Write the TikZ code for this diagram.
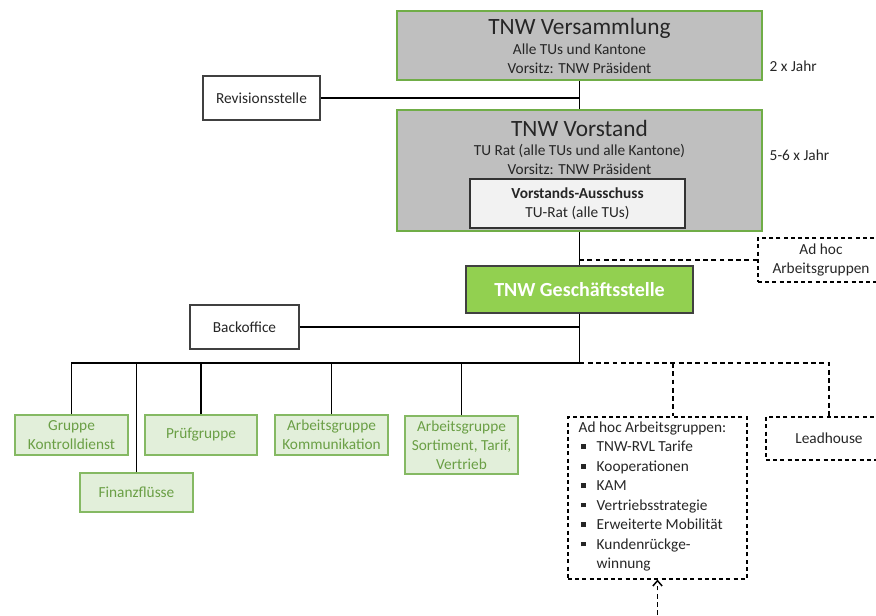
\documentclass[tikz,border=0pt]{standalone}
\usepackage{fontspec}
\setmainfont{Carlito}
\usetikzlibrary{positioning,fit,arrows.meta}
\definecolor{boxgrey}{HTML}{BFBFBF}
\definecolor{rimgreen}{HTML}{70AD47}
\definecolor{gsgreen}{HTML}{92D050}
\definecolor{palegreen}{HTML}{E2EFDA}
\definecolor{textgreen}{HTML}{6A9F45}
\definecolor{innergrey}{HTML}{F2F2F2}
\definecolor{ink}{HTML}{262626}
\newcommand{\sqbullet}% small square bullet of the list
{\makebox[13.5pt][l]{\hspace{1.5pt}\rule[0.18em]{3.6pt}{3.6pt}}}

\begin{document}
\begin{tikzpicture}[x=.75pt,y=-.75pt,line width=1.1pt,font=\fontsize{11.5}{14.3}\selectfont,text=ink] % organigram
\tikzstyle{greybox}=[draw=rimgreen,fill=boxgrey,line width=1.2pt,inner sep=0pt]
\tikzstyle{plainbox}=[draw=black!75,fill=white,line width=.8pt,inner sep=0pt]
\tikzstyle{innerbox}=[draw=black!80,fill=innergrey,line width=.9pt,inner sep=0pt]
\tikzstyle{gsbox}=[draw=black!75,fill=gsgreen,line width=1.1pt,inner sep=0pt]
\tikzstyle{groupbox}=[draw=rimgreen!85,fill=palegreen,line width=1.1pt,inner sep=0pt]
\tikzstyle{adhocbox}=[draw,dash pattern=on 3pt off 2.4pt,line width=.9pt,inner sep=0pt]
\tikzstyle{dashline}=[dash pattern=on 3.6pt off 2.6pt]
\tikzstyle{txt}=[inner sep=0pt,align=center]
\tikzstyle{grouptxt}=[txt,text=textgreen]
\tikzstyle{title}=[anchor=base,inner sep=0pt,font=\fontsize{17.5}{20}\selectfont]
\tikzstyle{line}=[anchor=base,inner sep=0pt]

\clip (0,0) rectangle (876,616);

% top: Versammlung
\node[greybox,fit={(397,11) (762,80)}] (vers) {};
\draw (579.5,35) node[title] (versT) {TNW Versammlung};
\draw (579.5,55) node[line] (versA) {Alle TUs und Kantone};
\draw (579.5,74) node[line] (versB) {Vorsitz: TNW Präsident};
\draw (769,72) node[line,anchor=base west] (versF) {2 x Jahr};

\node[plainbox,fit={(203,76) (320,120)}] (rev) {};
\draw (rev.center) node[txt] (revT) {Revisionsstelle};

% Vorstand with its Ausschuss
\node[greybox,fit={(397,110) (762,231)}] (vor) {};
\draw (579.5,137) node[title] (vorT) {TNW Vorstand};
\draw (579.5,156) node[line] (vorA) {TU Rat (alle TUs und alle Kantone)};
\draw (579.5,175) node[line] (vorB) {Vorsitz: TNW Präsident};
\draw (769,161) node[line,anchor=base west] (vorF) {5-6 x Jahr};
\node[innerbox,fit={(470,179) (685,228)}] (aus) {};
\draw (aus.center) node[txt] (ausT) {\textbf{Vorstands-Ausschuss}\\TU-Rat (alle TUs)};

\node[adhocbox,fit={(758,238) (884,282)}] (adhoc) {};
\draw (adhoc.center) node[txt] (adhocT) {Ad hoc\\Arbeitsgruppen};

% Geschaeftsstelle
\node[gsbox,fit={(466,266) (693,313)}] (gs) {};
\draw (gs.center) node[txt,text=white,font=\fontsize{15}{18}\selectfont\bfseries] (gsT) {TNW Geschäftsstelle};
\node[plainbox,fit={(190,305) (299,349)}] (back) {};
\draw (back.center) node[txt] (backT) {Backoffice};

% groups below the bus
\node[groupbox,fit={(15,415) (128,455)}] (kd) {};
\draw (kd.center) node[grouptxt] (kdT) {Gruppe\\Kontrolldienst};
\node[groupbox,fit={(80,473) (193,512)}] (fin) {};
\draw (fin.center) node[grouptxt] (finT) {Finanzflüsse};
\node[groupbox,fit={(145,415) (257,455)}] (pruef) {};
\draw (pruef.center) node[grouptxt] (pruefT) {Prüfgruppe};
\node[groupbox,fit={(275,415) (388,455)}] (komm) {};
\draw (komm.center) node[grouptxt] (kommT) {Arbeitsgruppe\\Kommunikation};
\node[groupbox,fit={(405,416) (518,474)}] (sort) {};
\draw (sort.center) node[grouptxt] (sortT) {Arbeitsgruppe\\Sortiment, Tarif,\\Vertrieb};

\node[adhocbox,fit={(568,417) (747,579)}] (list) {};
\draw (578,421) node[anchor=north west,inner sep=0pt,align=left,font=\fontsize{11.5}{14.6}\selectfont] (listT)
  {Ad hoc Arbeitsgruppen:\\
   \sqbullet TNW-RVL Tarife\\
   \sqbullet Kooperationen\\
   \sqbullet KAM\\
   \sqbullet Vertriebsstrategie\\
   \sqbullet Erweiterte Mobilität\\
   \sqbullet Kundenrückge-\\
   \hspace*{13.5pt}winnung};
\node[adhocbox,fit={(766,417) (892,460)}] (lead) {};
\draw (lead.center) node[txt] (leadT) {Leadhouse};

% connectors
\coordinate (bus) at (579.5,363);
\coordinate (drop) at (673,363);
\coordinate (below) at (657.5,640);
\draw (vers) -- (vor);
\draw (rev) -- (rev -| vers.south);
\draw (vor) -- (gs);
\draw[dashline] (adhoc) -- (adhoc -| gs.north);
\draw (gs) -- (bus);
\draw (back) -- (back -| bus);
\draw (kd.north) |- (bus);
\draw (fin.north) -- (fin.north |- bus);
\draw (pruef.north) -- (pruef.north |- bus);
\draw (komm.north) -- (komm.north |- bus);
\draw (sort.north) -- (sort.north |- bus);
\draw[dashline] (bus) -- (lead.north |- bus) -- (lead.north);
\draw[dashline] (drop) -- (drop |- list.north);
\draw[dashline,-{Straight Barb[length=4pt,width=7pt]}] (below) -- (list.south);
\end{tikzpicture}
\end{document}
